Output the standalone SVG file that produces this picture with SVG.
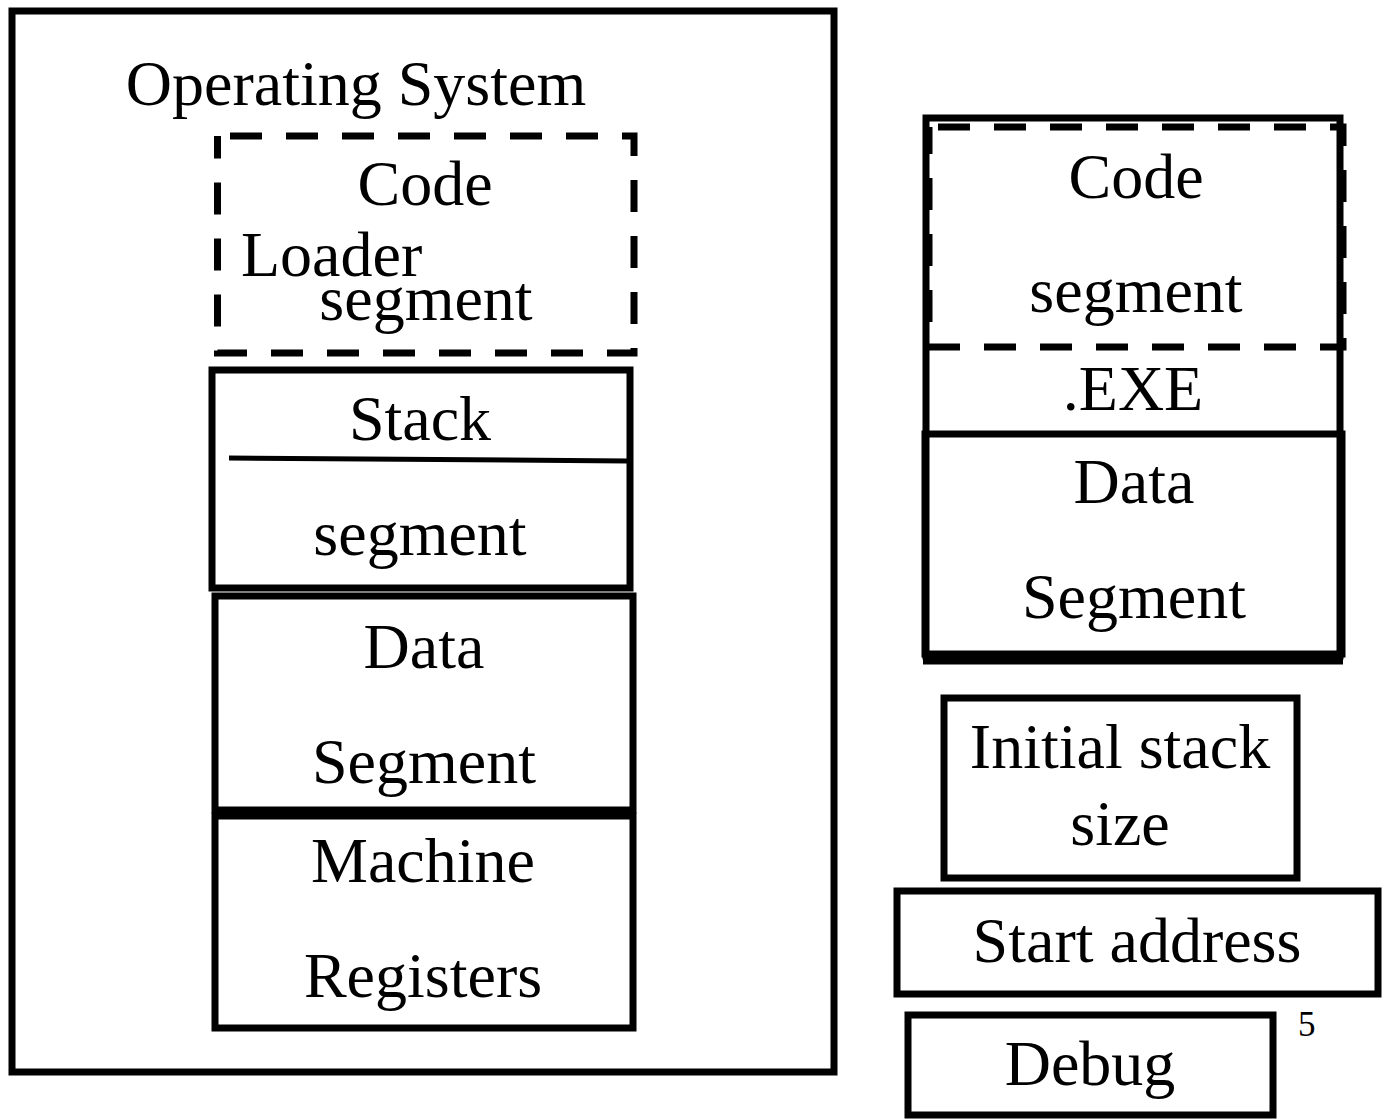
<svg xmlns="http://www.w3.org/2000/svg" width="1385" height="1119" viewBox="0 0 1385 1119">
<style>
.box{fill:none;stroke:#000;stroke-width:7}
.dash{fill:none;stroke:#000;stroke-width:7;stroke-dasharray:32 24}
.ln{stroke:#000;stroke-width:5;fill:none}
text{font-family:"Liberation Serif","Times New Roman",serif;font-size:64px;fill:#000;text-anchor:middle}
</style>
<rect width="1385" height="1119" fill="#fff"/>
<g id="os">
<rect class="box" x="12" y="11" width="822" height="1061"/>
<text x="356" y="105">Operating System</text>
</g>
<g id="loader">
<path class="dash" d="M230,136 H634 V353 H217.5 V136"/>
<text x="425" y="205">Code</text>
<text x="241" y="276" style="text-anchor:start">Loader</text>
<text x="426" y="320">segment</text>
</g>
<g id="stack">
<rect class="box" x="212" y="370" width="418" height="218"/>
<line class="ln" x1="229" y1="458" x2="628" y2="461"/>
<text x="420" y="440">Stack</text>
<text x="420" y="555">segment</text>
</g>
<g id="data-left">
<rect class="box" x="215" y="596" width="418" height="214"/>
<text x="424" y="668">Data</text>
<text x="424" y="783">Segment</text>
</g>
<g id="registers">
<rect class="box" x="215" y="816" width="418" height="212"/>
<text x="423" y="882">Machine</text>
<text x="423" y="997">Registers</text>
</g>
<g id="exe">
<rect class="box" x="926" y="118" width="414" height="538"/>
<path class="dash" d="M938,127 H1343 V347 H929 V127"/>
<text x="1136" y="198">Code</text>
<text x="1136" y="312">segment</text>
<text x="1133" y="410">.EXE</text>
</g>
<g id="data-right">
<rect class="box" x="925" y="434" width="417" height="220"/>
<line class="box" x1="923" y1="661" x2="1343" y2="661"/>
<text x="1134" y="503">Data</text>
<text x="1134" y="618">Segment</text>
</g>
<g id="stacksize">
<rect class="box" x="944" y="698" width="353" height="180"/>
<text x="1120" y="768">Initial stack</text>
<text x="1120" y="845">size</text>
</g>
<g id="start">
<rect class="box" x="897" y="891" width="481" height="103"/>
<text x="1137" y="962">Start address</text>
</g>
<g id="debug">
<rect class="box" x="908" y="1015" width="365" height="100"/>
<text x="1090" y="1085">Debug</text>
</g>
<text x="1298" y="1036" style="font-size:35px;text-anchor:start">5</text>
<g id="connectors"></g>
</svg>
